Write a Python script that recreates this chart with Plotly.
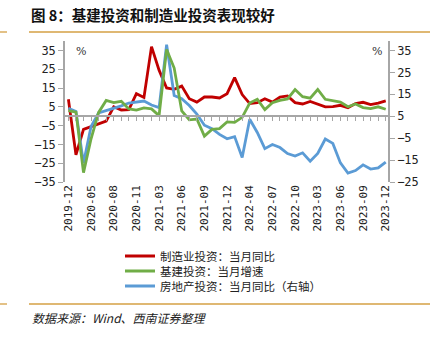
import plotly.graph_objects as go

# ---------------- data ----------------
months = ["2019-12",
          "2020-03", "2020-04", "2020-05", "2020-06", "2020-07", "2020-08", "2020-09", "2020-10", "2020-11", "2020-12",
          "2021-02", "2021-03", "2021-04", "2021-05", "2021-06", "2021-07", "2021-08", "2021-09", "2021-10", "2021-11", "2021-12",
          "2022-02", "2022-03", "2022-04", "2022-05", "2022-06", "2022-07", "2022-08", "2022-09", "2022-10", "2022-11", "2022-12",
          "2023-03", "2023-04", "2023-05", "2023-06", "2023-07", "2023-08", "2023-09", "2023-10", "2023-11", "2023-12"]

tick_labels = ["2019-12", "2020-05", "2020-08", "2020-11", "2021-03", "2021-06", "2021-09", "2021-12",
               "2022-04", "2022-07", "2022-10", "2023-03", "2023-06", "2023-09", "2023-12"]

manufacturing = [9, -20.5, -7, -5.5, -3.7, -2.6, 5, 3.3, 3.5, 12, 10,
                 37, 24.5, 15, 14.3, 16, 9.3, 7.5, 10.2, 10.2, 9.7, 12,
                 20.5, 11.5, 6.7, 7.2, 9.3, 7.5, 10.2, 10.8, 7.2, 6.5, 7.8,
                 6.4, 5, 5.1, 5.8, 4.5, 6.7, 7.4, 6.2, 7, 8.1]

infrastructure = [3, 2.2, -30, -12, 2, 8.4, 7.2, 7.9, 3.9, 3.2, 4.4,
                  3.9, 0.3, 35.5, 25.6, 2.8, -1.9, -1.5, -10.6, -7, -6.6, -3,
                  -3.3, -0.6, 7, 9, 3.5, 7.2, 8.4, 9.2, 14.2, 10.4, 9.6,
                  14.2, 9, 8.3, 7.5, 5, 6.5, 4.6, 4, 5, 3.7]

real_estate = [8.6, 7.1, -16.4, 0.3, 6.5, 7.6, 8.4, 9.7, 11, 11.6, 11.9,
               10.1, 8.9, 37.6, 14.4, 13, 9.9, 6, 0.9, -0.7, -3.3, -5.3,
               -4.3, -13.8, 3.6, -2.4, -9.8, -7.9, -9.3, -12, -13.2, -11.7, -15.5,
               -12, -5.4, -7.4, -16.3, -20.9, -19.8, -17.2, -19.1, -18.6, -15.9]

names = ["制造业投资：当月同比", "基建投资：当月增速", "房地产投资：当月同比（右轴）"]
colors = ["#C00000", "#70AD47", "#5B9BD5"]

# ---------------- layout helpers ----------------
W, H = 439, 339
ML, MR, MT, MB = 65, 51, 41, 157
PW, PH = W - ML - MR, H - MT - MB

LEFT_RANGE = [-35, 40]
RIGHT_RANGE = [-25, 35 + 5 * 60 / 70]


def px(x):
    return (x - ML) / PW


def py(y):
    return (H - MB - y) / PH


CJK = "Noto Sans CJK SC"
MONO = "DejaVu Sans Mono"
AXC = "#A6A6A6"
RULE = "#D4A045"

fig = go.Figure()
fig.add_trace(go.Scatter(x=months, y=manufacturing, name=names[0], mode="lines",
                         line=dict(color=colors[0], width=2.8), xaxis="x", yaxis="y",
                         legend="legend"))
fig.add_trace(go.Scatter(x=months, y=infrastructure, name=names[1], mode="lines",
                         line=dict(color=colors[1], width=2.8), xaxis="x2", yaxis="y",
                         legend="legend2"))
fig.add_trace(go.Scatter(x=months, y=real_estate, name=names[2], mode="lines",
                         line=dict(color=colors[2], width=2.8), xaxis="x", yaxis="y2",
                         legend="legend3"))

xrange = [-0.45, len(months) - 1 + 0.3]
zero_pos = (0 - LEFT_RANGE[0]) / (LEFT_RANGE[1] - LEFT_RANGE[0])


def leg(yrow):
    return dict(x=px(120), y=py(yrow), xanchor="left", yanchor="middle",
                font=dict(family=CJK, size=11.5, color="#222"),
                bgcolor="rgba(0,0,0,0)", borderwidth=0)


fig.update_layout(
    width=W, height=H,
    margin=dict(l=ML, r=MR, t=MT, b=MB, pad=0),
    paper_bgcolor="white", plot_bgcolor="white",
    hovermode=False,
    showlegend=True,
    legend=leg(256), legend2=leg(271), legend3=leg(286),
    xaxis=dict(type="category", categoryorder="array", categoryarray=months,
               range=xrange, tickmode="array", tickvals=tick_labels, ticktext=tick_labels,
               tickangle=-90, showline=False, ticks="", showgrid=False, zeroline=False,
               tickfont=dict(family=MONO, size=11, color="#222")),
    xaxis2=dict(type="category", categoryorder="array", categoryarray=months,
                range=xrange, overlaying="x", anchor="free", position=zero_pos, side="bottom",
                showline=True, linecolor=AXC, linewidth=1.5, ticks="outside", ticklen=4,
                tickcolor=AXC, tickwidth=1, tickmode="array", tickvals=months,
                showticklabels=False, showgrid=False, zeroline=False),
    yaxis=dict(range=LEFT_RANGE, tickmode="linear", tick0=-35, dtick=10,
               showline=True, linecolor=AXC, linewidth=1.5, ticks="outside", ticklen=5,
               tickcolor=AXC, showgrid=False, zeroline=False,
               tickfont=dict(family=MONO, size=12, color="#222")),
    yaxis2=dict(range=RIGHT_RANGE, tickmode="linear", tick0=-25, dtick=10,
                overlaying="y", side="right", anchor="x",
                showline=True, linecolor=AXC, linewidth=1.5, ticks="outside", ticklen=5,
                tickcolor=AXC, showgrid=False, zeroline=False,
                tickfont=dict(family=MONO, size=12, color="#222")),
)

# decorations: title, rules, source, % units
fig.add_annotation(text="<b>图 8：基建投资和制造业投资表现较好</b>", xref="paper", yref="paper",
                   x=px(29), y=py(15), xanchor="left", yanchor="middle", showarrow=False,
                   font=dict(family=CJK, size=14.5, color="#111"))
fig.add_annotation(text="<i>数据来源：Wind、西南证券整理</i>", xref="paper", yref="paper",
                   x=px(30), y=py(317), xanchor="left", yanchor="middle", showarrow=False,
                   font=dict(family=CJK, size=12, color="#222"))
fig.add_annotation(text="%", xref="paper", yref="paper", x=px(81), y=py(51),
                   xanchor="center", yanchor="middle", showarrow=False,
                   font=dict(family="DejaVu Serif", size=11, color="#333"))
fig.add_annotation(text="%", xref="paper", yref="paper", x=px(377), y=py(51),
                   xanchor="center", yanchor="middle", showarrow=False,
                   font=dict(family="DejaVu Serif", size=11, color="#333"))

for yy in (32, 304):
    fig.add_shape(type="line", xref="paper", yref="paper", x0=px(29), x1=px(430),
                  y0=py(yy), y1=py(yy), line=dict(color=RULE, width=1.3))
    fig.add_shape(type="line", xref="paper", yref="paper", x0=px(0), x1=px(7),
                  y0=py(yy), y1=py(yy), line=dict(color=RULE, width=1.3))

fig.write_html("out.html")
